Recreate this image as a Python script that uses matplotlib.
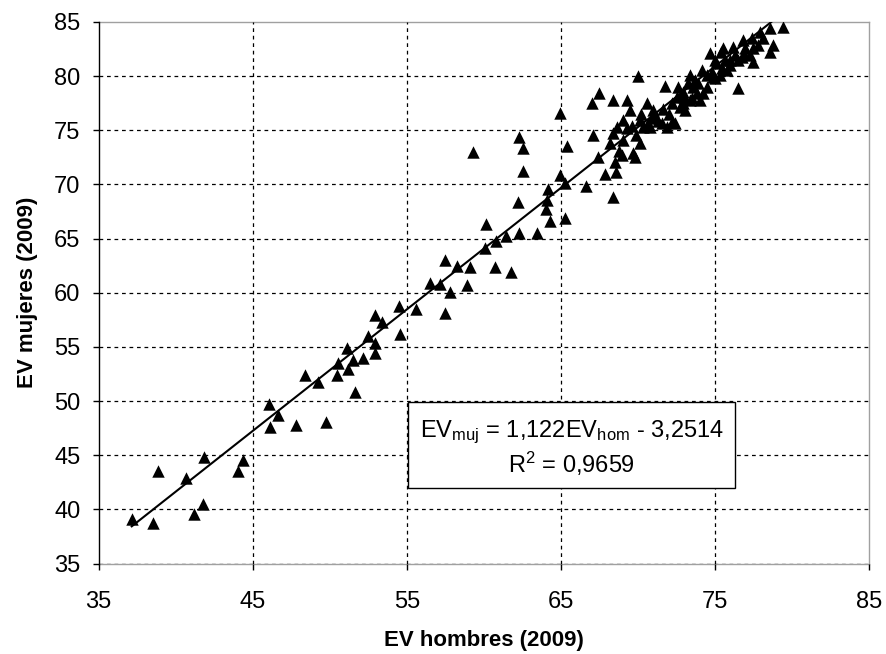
import matplotlib
matplotlib.use("Agg")
import matplotlib.pyplot as plt
from matplotlib.patches import Rectangle

plt.rcParams['font.family'] = ['Liberation Sans', 'DejaVu Sans']
plt.rcParams['mathtext.fontset'] = 'custom'
plt.rcParams['mathtext.rm'] = 'Liberation Sans'
plt.rcParams['mathtext.it'] = 'Liberation Sans'

# Data: life expectancy men (x) vs women (y), 2009
ev_hombres = [
    37.15, 38.55, 38.87, 40.65, 41.19, 41.80, 41.86, 44.07, 44.39, 46.04,
    46.12, 46.62, 47.79, 48.39, 49.26, 49.78, 50.45, 50.55, 51.10, 51.20,
    51.53, 51.64, 52.18, 52.50, 52.94, 52.94, 52.94, 53.40, 54.52, 54.58,
    55.62, 56.52, 57.15, 57.48, 57.48, 57.82, 58.24, 58.94, 59.08, 59.32,
    60.07, 60.14, 60.72, 60.80, 61.42, 61.74, 62.24, 62.30, 62.30, 62.56,
    62.52, 63.43, 64.03, 64.08, 64.18, 64.29, 64.97, 64.97, 65.27, 65.30,
    65.38, 66.63, 67.06, 67.00, 67.45, 67.43, 67.84, 68.36, 68.36, 68.58,
    68.51, 70.02, 71.75, 69.27, 69.48, 70.57, 71.00, 68.62, 69.05, 70.13,
    70.35, 70.67, 68.19, 68.40, 69.05, 69.70, 70.13, 69.81, 68.95, 70.78,
    71.54, 71.87, 72.40, 72.19, 72.52, 72.73, 73.06, 73.38, 73.27, 73.59,
    73.81, 74.03, 73.38, 74.14, 74.46, 75.00, 74.70, 75.00, 75.40, 75.65,
    72.62, 72.94, 76.51, 79.43, 78.57, 78.78, 78.57, 77.92, 78.13, 77.38,
    77.49, 76.84, 76.95, 76.19, 76.30, 75.54, 75.97, 75.43, 76.51, 77.27,
    77.49, 74.24, 76.73, 74.89, 75.76, 75.10, 71.20, 71.60, 72.00, 73.50,
    73.90, 74.50, 72.20, 73.00, 70.20, 69.30, 69.90, 70.90, 71.30, 72.90,
    73.70, 74.80, 75.30, 76.00, 76.90, 77.80, 68.80, 69.60,
]
ev_mujeres = [
    39.08, 38.71, 43.54, 42.87, 39.57, 40.49, 44.86, 43.54, 44.56, 49.70,
    47.63, 48.71, 47.79, 52.40, 51.75, 48.07, 52.40, 53.48, 54.87, 52.95,
    53.79, 50.82, 53.95, 56.00, 55.33, 54.41, 57.95, 57.33, 58.78, 56.22,
    58.48, 60.90, 60.84, 62.99, 58.17, 60.10, 62.43, 60.67, 62.37, 73.02,
    64.17, 66.38, 62.40, 64.75, 65.28, 61.94, 68.41, 65.49, 74.35, 73.34,
    71.22, 65.49, 67.70, 68.60, 69.60, 66.60, 76.57, 70.87, 70.10, 66.87,
    73.55, 69.90, 74.60, 77.49, 78.48, 72.56, 70.98, 68.84, 77.76, 71.18,
    72.10, 80.00, 79.10, 77.80, 76.87, 77.49, 76.87, 75.33, 75.95, 75.95,
    75.33, 75.65, 73.80, 74.72, 74.10, 72.88, 73.80, 72.56, 72.72, 75.33,
    75.65, 75.33, 75.65, 77.49, 78.10, 77.18, 76.87, 80.10, 79.34, 79.03,
    78.40, 77.80, 77.80, 80.57, 80.10, 79.80, 82.10, 81.50, 82.26, 81.50,
    79.03, 78.56, 78.88, 84.57, 84.42, 82.88, 82.26, 84.10, 83.50, 83.50,
    82.57, 83.30, 82.57, 82.70, 81.96, 82.57, 81.03, 80.72, 81.50, 81.96,
    81.33, 78.40, 81.80, 79.95, 80.57, 81.20, 76.20, 77.00, 76.50, 78.00,
    79.40, 79.00, 75.80, 78.10, 76.50, 75.20, 74.60, 76.10, 75.90, 77.50,
    79.60, 80.40, 80.10, 81.50, 82.00, 82.90, 73.10, 75.40,
]

slope = 1.122
intercept = -3.2514
r2_text = "0,9659"

x_ticks = [35, 45, 55, 65, 75, 85]
y_ticks = [35, 40, 45, 50, 55, 60, 65, 70, 75, 80, 85]

fig = plt.figure(figsize=(8.86, 6.54), dpi=100)
ax = fig.add_axes([98.6 / 886, 1 - 563.5 / 654, (869 - 98.6) / 886, (563.5 - 22) / 654])

ax.set_xlim(35, 85)
ax.set_ylim(35, 85)

# gridlines
for yt in y_ticks[:-1]:
    ax.axhline(yt, color='black', lw=0.9, ls=(0, (3, 3)), zorder=1)
for xt in x_ticks[1:-1]:
    ax.axvline(xt, color='black', lw=0.9, ls=(0, (3, 3)), zorder=1)

ax.scatter(ev_hombres, ev_mujeres, marker='^', s=80, color='black', linewidths=0, zorder=3)

xmin, xmax = min(ev_hombres), max(ev_hombres)
ax.plot([xmin, xmax], [slope * xmin + intercept, slope * xmax + intercept],
        color='black', lw=1.5, zorder=4)

for side in ['top', 'right', 'bottom']:
    ax.spines[side].set_color('#a0a0a0')
    ax.spines[side].set_linewidth(1.0)
    ax.spines[side].set_zorder(0.5)
ax.spines['left'].set_color('black')
ax.spines['left'].set_linewidth(1.0)

ax.set_xticks(x_ticks)
ax.set_yticks(y_ticks)
ax.tick_params(direction='out', length=4, width=1, color='black', labelsize=17)
ax.tick_params(axis='x', pad=16)
ax.tick_params(axis='y', pad=9)

ax.set_xlabel('EV hombres (2009)', fontsize=16, fontweight='bold', labelpad=12)
ax.set_ylabel('EV mujeres (2009)', fontsize=16, fontweight='bold', labelpad=12)

# equation box
ax.add_patch(Rectangle((55.1, 41.94), 21.2, 8.0, facecolor='white', edgecolor='black',
                       lw=1.0, zorder=5))
ax.text(65.7, 46.71, r'EV$_{\mathrm{muj}}$ = 1,122EV$_{\mathrm{hom}}$ - 3,2514',
        ha='center', va='baseline', fontsize=17, zorder=6)
ax.text(65.7, 43.33, r'R$^{2}$ = ' + r2_text, ha='center', va='baseline', fontsize=17, zorder=6)

fig.savefig('out.png', dpi=100)
